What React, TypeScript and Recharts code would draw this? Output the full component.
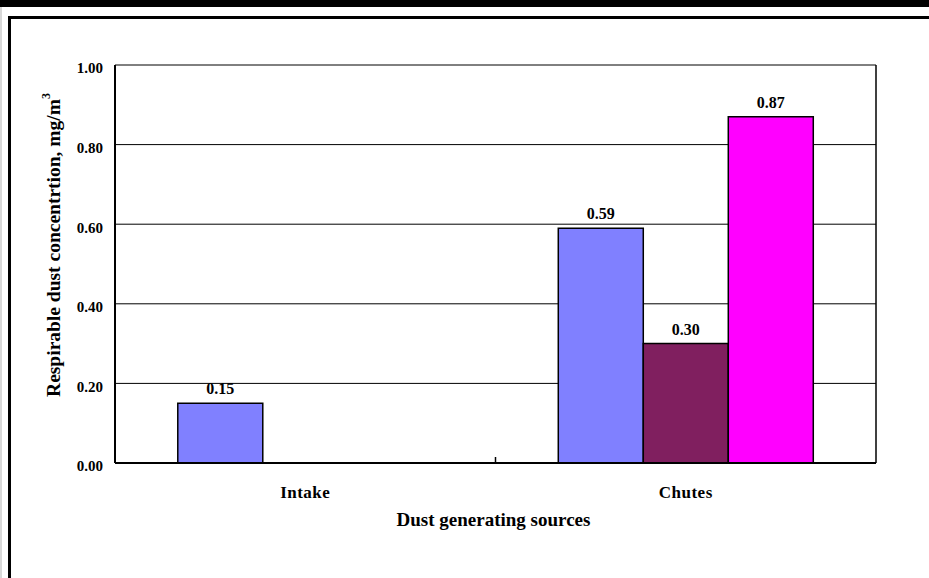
import React from 'react';
import { BarChart, Bar, XAxis, YAxis, CartesianGrid, LabelList } from 'recharts';

const categories = ['Intake', 'Chutes'];
const seriesA = [0.15, 0.59];
const seriesB = [null, 0.3];
const seriesC = [null, 0.87];
const yTicks = [0, 0.2, 0.4, 0.6, 0.8, 1.0];

const COLORS = {
  a: '#8080ff',
  b: '#801f5f',
  c: '#ff00ff',
};

const FONT = '"Liberation Serif", "Times New Roman", serif';
const X_TICK_MARGIN = 23;

const data = categories.map((name, i) => ({
  name,
  a: seriesA[i],
  b: seriesB[i],
  c: seriesC[i],
}));

const fmt = (v: any) => (v == null ? '' : Number(v).toFixed(2));

// category label plus the small divider tick between categories
function CategoryTick(props: any) {
  const { x, y, payload, index } = props;
  const axisY = y - X_TICK_MARGIN;
  const half = payload && payload.offset ? payload.offset : 0;
  const showDivider = index < categories.length - 1 && half > 0;
  return (
    <g>
      {showDivider && (
        <line x1={x + half} x2={x + half} y1={axisY} y2={axisY - 6} stroke="#000" strokeWidth={1.5} />
      )}
      <text
        x={x}
        y={y}
        dy="0.71em"
        textAnchor="middle"
        fontFamily={FONT}
        fontWeight="bold"
        fontSize={17}
        letterSpacing={0.5}
        fill="#000"
      >
        {payload.value}
      </text>
    </g>
  );
}

function YTitle(props: any) {
  const vb = props.viewBox || { x: 0, y: 0, width: 0, height: 0 };
  const cx = 56;
  const cy = vb.y + vb.height / 2 - 19;
  return (
    <text
      x={cx}
      y={cy}
      transform={`rotate(-90 ${cx} ${cy})`}
      textAnchor="middle"
      dominantBaseline="middle"
      fontFamily={FONT}
      fontWeight="bold"
      fontSize={19.5}
      fill="#000"
    >
      Respirable dust concentrtion, mg/m
      <tspan dy={-9} fontSize={12}>3</tspan>
    </text>
  );
}

function XTitle(props: any) {
  const vb = props.viewBox || { x: 0, y: 0, width: 0, height: 0 };
  return (
    <text
      x={vb.x + vb.width / 2 - 2}
      y={522}
      textAnchor="middle"
      dominantBaseline="middle"
      fontFamily={FONT}
      fontWeight="bold"
      fontSize={19}
      fill="#000"
    >
      Dust generating sources
    </text>
  );
}

export default function App() {
  return (
    <div style={{ position: 'absolute', left: 0, top: 0, width: 929, height: 578, background: '#fff', overflow: 'hidden' }}>
      {/* page frame */}
      <div style={{ position: 'absolute', left: 0, top: 0, width: 929, height: 7, background: '#000' }} />
      <div style={{ position: 'absolute', left: 0, top: 7, width: 2, height: 571, background: '#d8d8d8' }} />
      <div
        style={{
          position: 'absolute',
          left: 8,
          top: 16,
          width: 929,
          height: 600,
          borderTop: '3px solid #000',
          borderLeft: '3px solid #000',
        }}
      />
      <div style={{ position: 'absolute', left: 0, top: 0 }}>
        <BarChart
          width={929}
          height={578}
          data={data}
          margin={{ top: 65, right: 52, left: 0, bottom: 42 }}
          barCategoryGap="16.5%"
          barGap={0}
        >
          <CartesianGrid vertical={false} stroke="#000" strokeWidth={1} />
          <XAxis
            dataKey="name"
            height={73}
            axisLine={{ stroke: '#000', strokeWidth: 2 }}
            tickLine={false}
            tickSize={0}
            tickMargin={X_TICK_MARGIN}
            tick={<CategoryTick />}
            label={<XTitle />}
          />
          <YAxis
            width={115}
            domain={[0, 1]}
            ticks={yTicks}
            tickFormatter={fmt}
            axisLine={{ stroke: '#000', strokeWidth: 2 }}
            tickLine={false}
            tickSize={0}
            tickMargin={12}
            tick={{ fill: '#000', fontFamily: FONT, fontWeight: 'bold', fontSize: 15, dy: 3 }}
            label={<YTitle />}
          />
          <YAxis
            yAxisId="right"
            orientation="right"
            width={1}
            tick={false}
            tickLine={false}
            axisLine={{ stroke: '#000', strokeWidth: 1.5 }}
          />
          <Bar dataKey="a" fill={COLORS.a} stroke="#000" strokeWidth={1.5} isAnimationActive={false}>
            <LabelList dataKey="a" position="top" offset={9} formatter={fmt} style={{ fill: '#000', fontFamily: FONT, fontWeight: 'bold', fontSize: 16 }} />
          </Bar>
          <Bar dataKey="b" fill={COLORS.b} stroke="#000" strokeWidth={1.5} isAnimationActive={false}>
            <LabelList dataKey="b" position="top" offset={9} formatter={fmt} style={{ fill: '#000', fontFamily: FONT, fontWeight: 'bold', fontSize: 16 }} />
          </Bar>
          <Bar dataKey="c" fill={COLORS.c} stroke="#000" strokeWidth={1.5} isAnimationActive={false}>
            <LabelList dataKey="c" position="top" offset={9} formatter={fmt} style={{ fill: '#000', fontFamily: FONT, fontWeight: 'bold', fontSize: 16 }} />
          </Bar>
        </BarChart>
      </div>
    </div>
  );
}
